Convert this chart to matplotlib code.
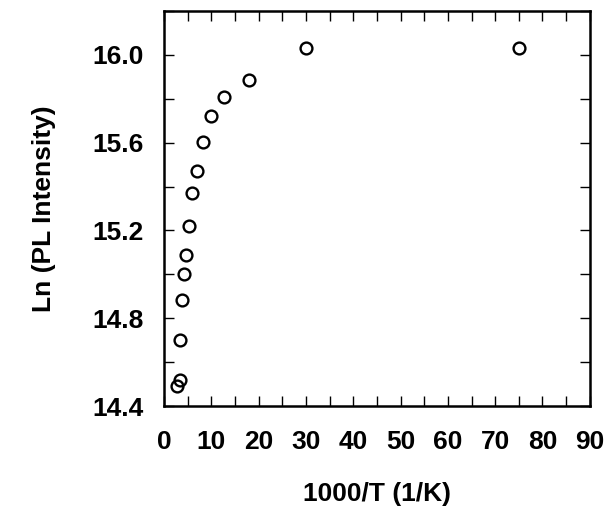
import matplotlib
matplotlib.use("Agg")
import matplotlib.pyplot as plt
from matplotlib.ticker import MultipleLocator

inv_t = [75, 30, 18.0, 12.7, 9.9, 8.2, 6.9, 5.9, 5.2, 4.6, 4.1, 3.8, 3.45, 3.4, 2.7]
ln_pl = [16.03, 16.03, 15.885, 15.81, 15.72, 15.605, 15.47, 15.37, 15.22,
         15.09, 15.0, 14.885, 14.70, 14.52, 14.49]

plt.rcParams['font.family'] = ['Liberation Sans', 'DejaVu Sans']
plt.rcParams['font.weight'] = 'bold'

fig = plt.figure(figsize=(6.08, 5.2), dpi=100)
ax = fig.add_axes([0.27, 0.219, 0.70, 0.76])

ax.plot(inv_t, ln_pl, 'o', mfc='none', mec='black', ms=8.5, mew=1.7)

ax.set_xlim(0, 90)
ax.set_ylim(14.4, 16.2)
ax.xaxis.set_major_locator(MultipleLocator(10))
ax.xaxis.set_minor_locator(MultipleLocator(5))
ax.yaxis.set_major_locator(MultipleLocator(0.4))
ax.yaxis.set_minor_locator(MultipleLocator(0.2))
ax.yaxis.set_major_formatter(plt.FormatStrFormatter('%.1f'))

ax.tick_params(which='both', direction='in', top=True, right=True, width=1)
ax.tick_params(which='major', length=7, labelsize=19)
ax.tick_params(which='minor', length=7)
ax.tick_params(axis='x', which='major', pad=17)
ax.tick_params(axis='y', which='major', pad=15)
for lbl in ax.get_xticklabels() + ax.get_yticklabels():
    lbl.set_fontweight('bold')
for s in ax.spines.values():
    s.set_linewidth(1.8)

ax.set_xlabel('1000/T (1/K)', fontsize=19, fontweight='bold', labelpad=20)
ax.set_ylabel('Ln (PL Intensity)', fontsize=19, fontweight='bold', labelpad=26)

fig.savefig('out.png', dpi=100)
